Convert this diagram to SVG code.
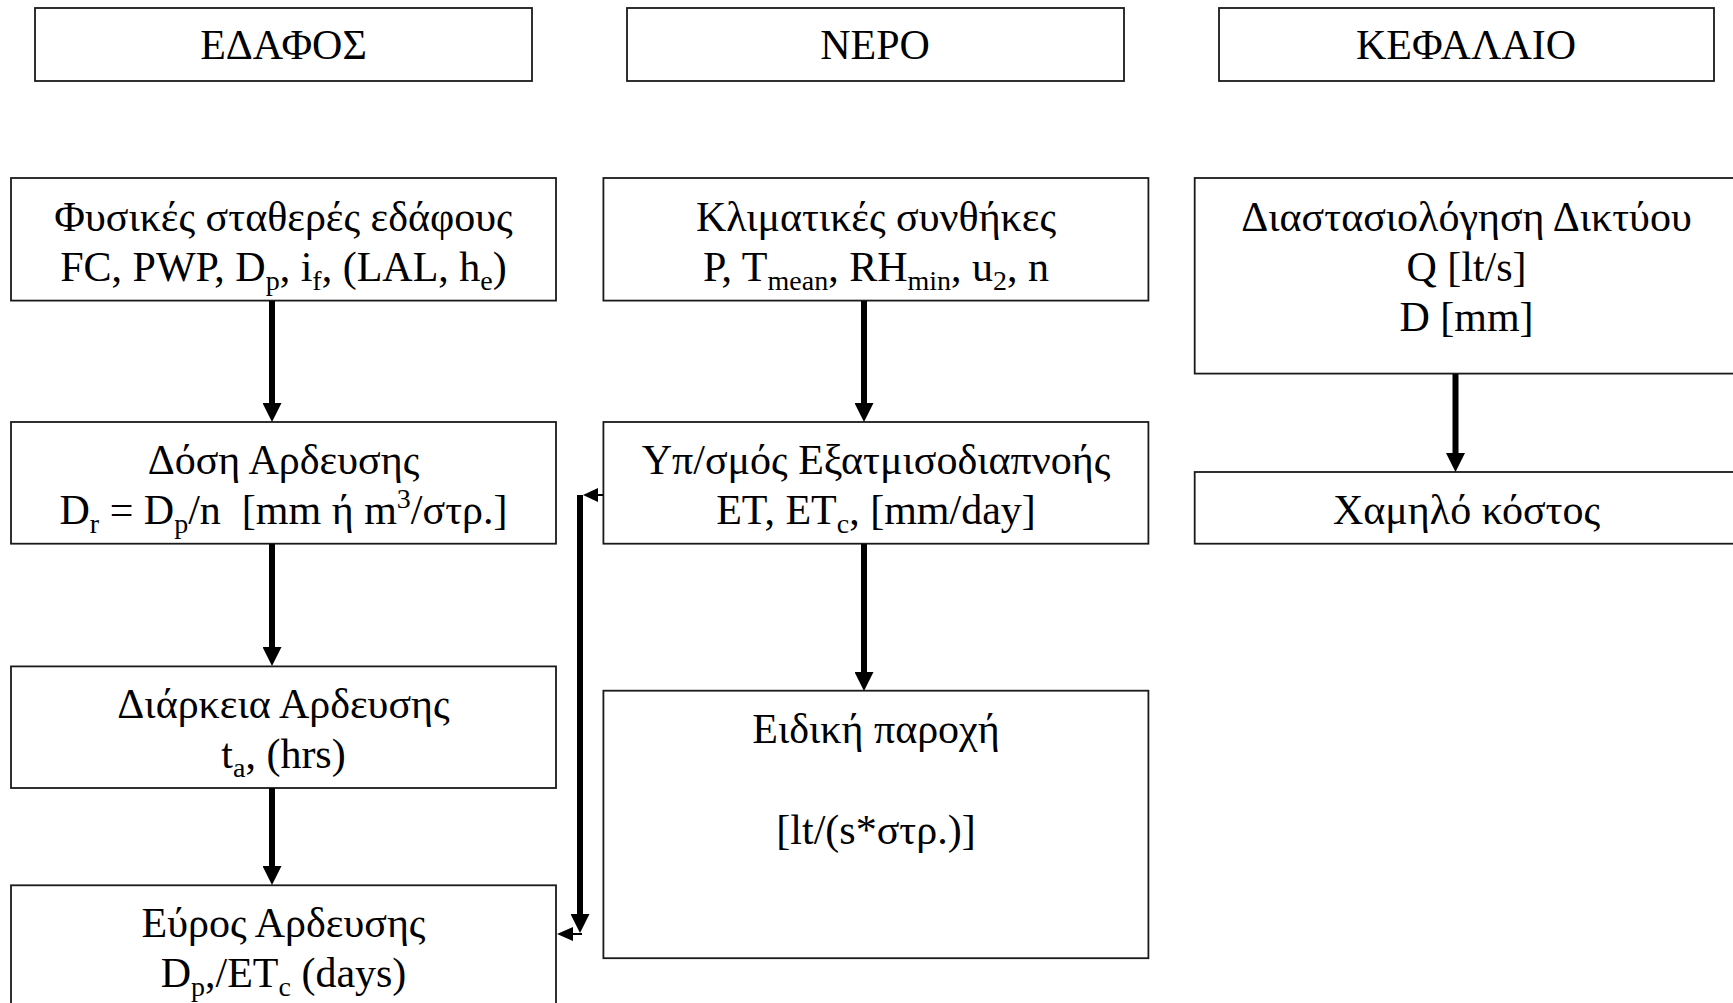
<svg xmlns="http://www.w3.org/2000/svg" width="1733" height="1003" viewBox="0 0 1733 1003">
<style>
.box{fill:#fff;stroke:#1a1a1a;stroke-width:1.8}
.t{font-family:"Liberation Serif","Times New Roman",serif;font-size:42px;fill:#000;text-anchor:middle}
.s{font-size:28px}
.ar{stroke:#000;stroke-width:6;fill:none}
.thin{stroke:#000;stroke-width:2;fill:none}
.head{fill:#000}
</style>
<defs>
<marker id="ah" markerUnits="userSpaceOnUse" markerWidth="19" markerHeight="19" refX="0" refY="9.5" orient="auto" viewBox="0 0 19 19">
<path d="M0,0 L19,9.5 L0,19 z" fill="#000"/>
</marker>
</defs>
<rect width="1733" height="1003" fill="#fff"/>

<g id="h-edafos"><rect class="box" x="35" y="8" width="497" height="73"/><text class="t" x="283.5" y="59">ΕΔΑΦΟΣ</text></g>
<g id="h-nero"><rect class="box" x="627" y="8" width="497" height="73"/><text class="t" x="875" y="59">ΝΕΡΟ</text></g>
<g id="h-kefalaio"><rect class="box" x="1219" y="8" width="495" height="73"/><text class="t" x="1466" y="59">ΚΕΦΑΛΑΙΟ</text></g>

<g id="n-fysikes"><rect class="box" x="11" y="178" width="545" height="122.6"/>
<text class="t" x="283.5" y="231">Φυσικές σταθερές εδάφους</text>
<text class="t" x="283.5" y="281">FC, PWP, D<tspan class="s" dy="9">p</tspan><tspan dy="-9">, i</tspan><tspan class="s" dy="9">f</tspan><tspan dy="-9">, (LAL, h</tspan><tspan class="s" dy="9">e</tspan><tspan dy="-9">)</tspan></text></g>

<g id="n-klimatikes"><rect class="box" x="603.4" y="178" width="545" height="122.6"/>
<text class="t" x="876" y="231">Κλιματικές συνθήκες</text>
<text class="t" x="876" y="281">P, T<tspan class="s" dy="9">mean</tspan><tspan dy="-9">, RH</tspan><tspan class="s" dy="9">min</tspan><tspan dy="-9">, u</tspan><tspan class="s" dy="9">2</tspan><tspan dy="-9">, n</tspan></text></g>

<g id="n-diastasiologisi"><rect class="box" x="1194.7" y="178" width="560" height="195.6"/>
<text class="t" x="1466.5" y="231">Διαστασιολόγηση Δικτύου</text>
<text class="t" x="1466.5" y="281">Q [lt/s]</text>
<text class="t" x="1466.5" y="331">D [mm]</text></g>

<g id="n-dosi"><rect class="box" x="11" y="422" width="545" height="121.7"/>
<text class="t" x="283.5" y="474">Δόση Αρδευσης</text>
<text class="t" x="283.5" y="524">D<tspan class="s" dy="9">r</tspan><tspan dy="-9"> = D</tspan><tspan class="s" dy="9">p</tspan><tspan dy="-9">/n&#160; [mm ή m</tspan><tspan class="s" dy="-16">3</tspan><tspan dy="16">/στρ.]</tspan></text></g>

<g id="n-ypsmos"><rect class="box" x="603.4" y="422" width="545" height="121.7"/>
<text class="t" x="876" y="474">Υπ/σμός Εξατμισοδιαπνοής</text>
<text class="t" x="876" y="524">ET, ET<tspan class="s" dy="9">c</tspan><tspan dy="-9">, [mm/day]</tspan></text></g>

<g id="n-xamilo"><rect class="box" x="1194.7" y="472" width="560" height="71.7"/>
<text class="t" x="1466.5" y="524">Χαμηλό κόστος</text></g>

<g id="n-diarkeia"><rect class="box" x="11" y="666.4" width="545" height="121.6"/>
<text class="t" x="283.5" y="718">Διάρκεια Αρδευσης</text>
<text class="t" x="283.5" y="768">t<tspan class="s" dy="9">a</tspan><tspan dy="-9">, (hrs)</tspan></text></g>

<g id="n-eidiki"><rect class="box" x="603.4" y="690.7" width="545" height="267.5"/>
<text class="t" x="876" y="743">Ειδική παροχή</text>
<text class="t" x="876" y="844">[lt/(s*στρ.)]</text></g>

<g id="n-evros"><rect class="box" x="11" y="885.3" width="545" height="130"/>
<text class="t" x="283.5" y="937">Εύρος Αρδευσης</text>
<text class="t" x="283.5" y="987">D<tspan class="s" dy="9">p</tspan><tspan dy="-9">,/ET</tspan><tspan class="s" dy="9">c</tspan><tspan dy="-9"> (days)</tspan></text></g>

<g id="connectors">
<line class="ar" x1="272" y1="301" x2="272" y2="403" marker-end="url(#ah)"/>
<line class="ar" x1="272" y1="544" x2="272" y2="647" marker-end="url(#ah)"/>
<line class="ar" x1="272" y1="788" x2="272" y2="866" marker-end="url(#ah)"/>
<line class="ar" x1="864" y1="301" x2="864" y2="403" marker-end="url(#ah)"/>
<line class="ar" x1="864" y1="544" x2="864" y2="672" marker-end="url(#ah)"/>
<line class="ar" x1="1455.5" y1="374" x2="1455.5" y2="453" marker-end="url(#ah)"/>
<line class="thin" x1="603" y1="495" x2="595" y2="495"/>
<polygon class="head" points="583,495 598,488 598,502"/>
<line class="ar" x1="580" y1="495" x2="580" y2="914" marker-end="url(#ah)"/>
<line class="thin" x1="582" y1="934" x2="571" y2="934"/>
<polygon class="head" points="557,934 573,927 573,941"/>
</g>
</svg>
